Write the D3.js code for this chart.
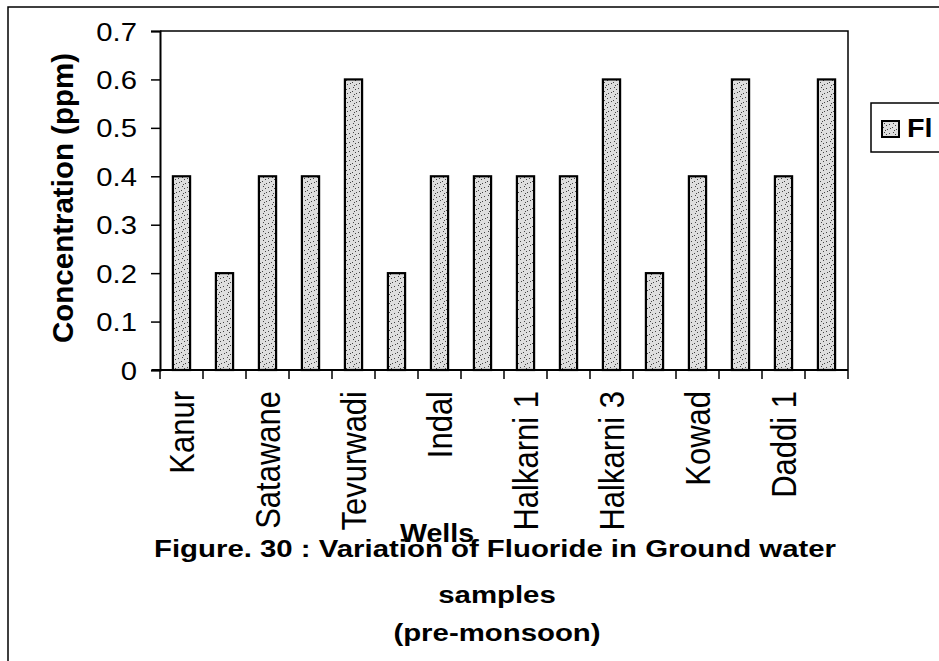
<!DOCTYPE html>
<html>
<head>
<meta charset="utf-8">
<script src="https://cdn.jsdelivr.net/npm/d3@7"></script>
<style>
  html, body { margin: 0; padding: 0; background: #fff; }
  svg { display: block; }
  text { font-family: "Liberation Sans", Arial, sans-serif; fill: #000; }
</style>
</head>
<body>
<svg id="chart" width="939" height="661"></svg>
<script>
const wells = ["Kanur","w2","Satawane","w4","Tevurwadi","w6","Indal","w8","Halkarni 1","w10","Halkarni 3","w12","Kowad","w14","Daddi 1","w16"];
const shownLabels = ["Kanur","Satawane","Tevurwadi","Indal","Halkarni 1","Halkarni 3","Kowad","Daddi 1"];
const fluoride = [0.4,0.2,0.4,0.4,0.6,0.2,0.4,0.4,0.4,0.4,0.6,0.2,0.4,0.6,0.4,0.6];
const yTicks = [0,0.1,0.2,0.3,0.4,0.5,0.6,0.7];
const seriesName = "Fl";
const yTitle = "Concentration (ppm)";
const xTitle = "Wells";
const titleLines = ["Figure. 30 : Variation of Fluoride in Ground water","samples","(pre-monsoon)"];

const svg = d3.select("#chart");

// stipple pattern
const defs = svg.append("defs");
const pat = defs.append("pattern").attr("id","stip").attr("patternUnits","userSpaceOnUse")
  .attr("width",9).attr("height",9);
pat.append("rect").attr("width",9).attr("height",9).attr("fill","#dedede");
[[1,1],[5,3],[2,6],[7,7],[4,8],[8,2],[3,4]].forEach(([x,y])=>{
  pat.append("rect").attr("x",x).attr("y",y).attr("width",1).attr("height",1).attr("fill","#444");
});

// outer frame
svg.append("path").attr("d","M8,661 V7 H939").attr("fill","none").attr("stroke","#000").attr("stroke-width",1.5);

const L = 160, R = 848, T = 31, B = 370;
const x = d3.scaleBand().domain(wells).range([L,R]).paddingInner(0).paddingOuter(0);
const y = d3.scaleLinear().domain([0,0.7]).range([B,T]);

// plot box top/right
svg.append("path").attr("d",`M${L},${T} H${R} V${B}`).attr("fill","none").attr("stroke","#000").attr("stroke-width",1.5);

// bars
const bw = x.bandwidth()*0.4;
svg.append("g").selectAll("rect").data(wells).join("rect")
  .attr("x", d => x(d) + (x.bandwidth()-bw)/2)
  .attr("y", (d,i) => y(fluoride[i]))
  .attr("width", bw)
  .attr("height", (d,i) => y(0) - y(fluoride[i]))
  .attr("fill","url(#stip)").attr("stroke","#000").attr("stroke-width",2.2);

// y axis
const yAxis = svg.append("g").attr("transform",`translate(${L},0)`)
  .call(d3.axisLeft(y).tickValues(yTicks).tickSize(9).tickPadding(0).tickFormat(d => d===0 ? "0" : d3.format(".1f")(d)));
yAxis.select(".domain").attr("stroke","#000").attr("stroke-width",2);
yAxis.selectAll(".tick line").attr("stroke","#000").attr("stroke-width",1.5);
yAxis.selectAll(".tick text").remove();
yAxis.selectAll(".tick").append("g")
  .attr("transform","translate(-23,0) scale(1.17,1)")
  .append("text").attr("text-anchor","end").attr("dy","0.36em")
  .style("font-size","25px")
  .text(d => d===0 ? "0" : d3.format(".1f")(d));

// x axis: ticks at band boundaries
const xg = svg.append("g");
xg.append("line").attr("x1",L-8).attr("x2",R).attr("y1",B).attr("y2",B).attr("stroke","#000").attr("stroke-width",2);
const bounds = wells.map(d => x(d)).concat([R]);
xg.selectAll("line.t").data(bounds).join("line").attr("class","t")
  .attr("x1",d=>d).attr("x2",d=>d).attr("y1",B).attr("y2",B+9)
  .attr("stroke","#000").attr("stroke-width",1.5);

// category labels
xg.selectAll("g.lab").data(wells.filter(w => shownLabels.includes(w))).join("g").attr("class","lab")
  .attr("transform", d => `translate(${x(d)+x.bandwidth()/2},391) scale(1.16,1) rotate(-90)`)
  .append("text").attr("text-anchor","end").attr("dy","0.36em")
  .style("font-size","31px").text(d => d);

// axis titles
svg.append("g").attr("transform","translate(62,198) rotate(-90)")
  .append("text").attr("text-anchor","middle").attr("dy","0.36em")
  .style("font-size","29.5px").style("font-weight","bold").text(yTitle);

svg.append("g").attr("transform","translate(437,542) scale(1.1,1)")
  .append("text").attr("text-anchor","middle")
  .style("font-size","26px").style("font-weight","bold").text(xTitle);

// figure title
const tY = [557,603,641];
const tX = [495,497,497];
titleLines.forEach((t,i) => {
  svg.append("g").attr("transform",`translate(${tX[i]},${tY[i]}) scale(1.25,1)`)
    .append("text").attr("text-anchor","middle")
    .style("font-size","23.5px").style("font-weight","bold").text(t);
});

// legend
const lg = svg.append("g");
lg.append("rect").attr("x",871).attr("y",103).attr("width",80).attr("height",49)
  .attr("fill","#fff").attr("stroke","#000").attr("stroke-width",1.5);
lg.append("rect").attr("x",882).attr("y",121).attr("width",17).attr("height",16)
  .attr("fill","url(#stip)").attr("stroke","#000").attr("stroke-width",2);
lg.append("g").attr("transform","translate(907,137) scale(1.15,1)")
  .append("text").style("font-size","25px").style("font-weight","bold").text(seriesName);
</script>
</body>
</html>
